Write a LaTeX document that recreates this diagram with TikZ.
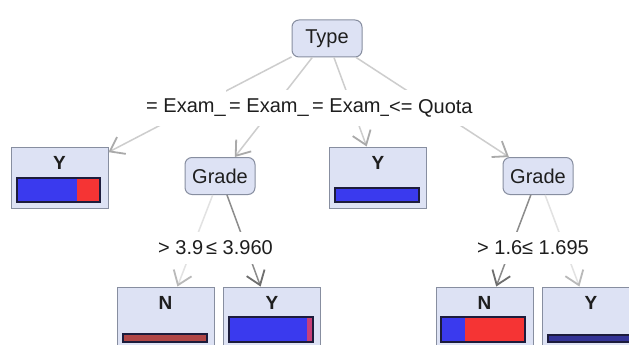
\documentclass[tikz,border=0pt]{standalone}
\usepackage{fontspec}
\setmainfont{Liberation Sans}
\usetikzlibrary{arrows.meta}
\definecolor{nodefill}{RGB}{221,226,244}
\definecolor{nodeline}{RGB}{135,142,160}
\definecolor{barblue}{RGB}{58,58,238}
\definecolor{barred}{RGB}{245,52,52}
\definecolor{barline}{RGB}{28,28,60}
\definecolor{barbrown}{RGB}{176,70,70}
\definecolor{bardark}{RGB}{52,52,150}
\definecolor{barpink}{RGB}{200,64,120}
\definecolor{edgelight}{RGB}{205,205,205}
\definecolor{edgepale}{RGB}{226,226,226}
\definecolor{edgedark}{RGB}{140,140,140}
\definecolor{tiplight}{RGB}{170,170,170}
\definecolor{tippale}{RGB}{185,185,185}
\definecolor{tipdark}{RGB}{110,110,110}
\definecolor{txt}{RGB}{30,30,30}
\tikzset{
  inner/.style={draw=nodeline, fill=nodefill, rounded corners=7pt, line width=1pt,
    minimum width=70pt, minimum height=37pt, inner sep=0pt, text=txt},
  leaf/.style={draw=nodeline, fill=nodefill, line width=1pt,
    minimum width=97pt, minimum height=61pt, inner sep=0pt},
  leaftext/.style={font=\fontsize{19}{21}\selectfont\bfseries, text=txt, inner sep=0pt},
  elabel/.style={fill=white, inner xsep=0pt, inner ysep=9pt, anchor=west, text=txt},
  edge/.style={line width=1.5pt, draw=edgelight,
    -{Straight Barb[length=13pt,width=19pt,line width=1.8pt,color=tiplight]}},
  paleedge/.style={line width=1.5pt, draw=edgepale,
    -{Straight Barb[length=13pt,width=19pt,line width=1.8pt,color=tippale]}},
  darkedge/.style={line width=1.5pt, draw=edgedark,
    -{Straight Barb[length=13pt,width=19pt,line width=1.8pt,color=tipdark]}},
  bar/.style={draw=barline, line width=1.2pt},
}
\begin{document}
\begin{tikzpicture}[x=1pt,y=-1pt, font=\fontsize{20}{24}\selectfont]
\clip (0,0) rectangle (629,345);
\fill[white] (0,0) rectangle (629,345);

% nodes
\node[inner] (type) at (327,38.5) {Type};
\node[leaf] (l1) at (59.5,177.5) {};
\node[inner] (gl) at (220,176) {Grade};
\node[leaf] (l2) at (378,177.5) {};
\node[inner] (gr) at (538,176) {Grade};
\node[leaf] (l3) at (165.5,317.5) {};
\node[leaf] (l4) at (272,317.5) {};
\node[leaf] (l5) at (484.5,317.5) {};
\node[leaf] (l6) at (591,317.5) {};

% edges
\draw[edge] (type) -- (l1);
\draw[edge] (type) -- (gl);
\draw[edge] (type) -- (l2);
\draw[edge] (type) -- (gr);
\draw[paleedge] (gl) -- (l3);
\draw[darkedge] (gl) -- (l4);
\draw[darkedge] (gr) -- (l5);
\draw[paleedge] (gr) -- (l6);

% edge labels
\node[elabel] (e1) at (146,108) {= Exam\_};
\node[elabel] (e2) at (229,108) {= Exam\_};
\node[elabel] (e3) at (312,108) {= Exam\_};
\node[elabel] (e4) at (389,108) {<= Quota};
\node[elabel] (e5) at (158,248) {> 3.9};
\node[elabel] (e6) at (206,248) {≤ 3.960};
\node[elabel] (e7) at (477,248) {> 1.6};
\node[elabel] (e8) at (522,248) {≤ 1.695};

% leaf texts
\node[leaftext] (t1) at (59.5,163) {Y};
\node[leaftext] (t2) at (378,163) {Y};
\node[leaftext] (t3) at (165.5,303) {N};
\node[leaftext] (t4) at (272,303) {Y};
\node[leaftext] (t5) at (484.5,303) {N};
\node[leaftext] (t6) at (591,303) {Y};

% bars
\fill[barblue] (17,178) rectangle (77,202);
\fill[barred] (77,178) rectangle (100,202);
\draw[bar] (17,178) rectangle (100,202);

\fill[barblue] (335,188) rectangle (419,202);
\draw[bar] (335,188) rectangle (419,202);

\fill[barbrown] (123,334) rectangle (207,342);
\draw[bar] (123,334) rectangle (207,342);

\fill[barblue] (229,317) rectangle (307,342);
\fill[barpink] (307,317) rectangle (313,342);
\draw[bar] (229,317) rectangle (313,342);

\fill[barblue] (441,317) rectangle (465,342);
\fill[barred] (465,317) rectangle (525,342);
\draw[bar] (441,317) rectangle (525,342);

\fill[bardark] (548,335) rectangle (640,342);
\draw[bar] (548,335) rectangle (640,342);
\end{tikzpicture}
\end{document}
